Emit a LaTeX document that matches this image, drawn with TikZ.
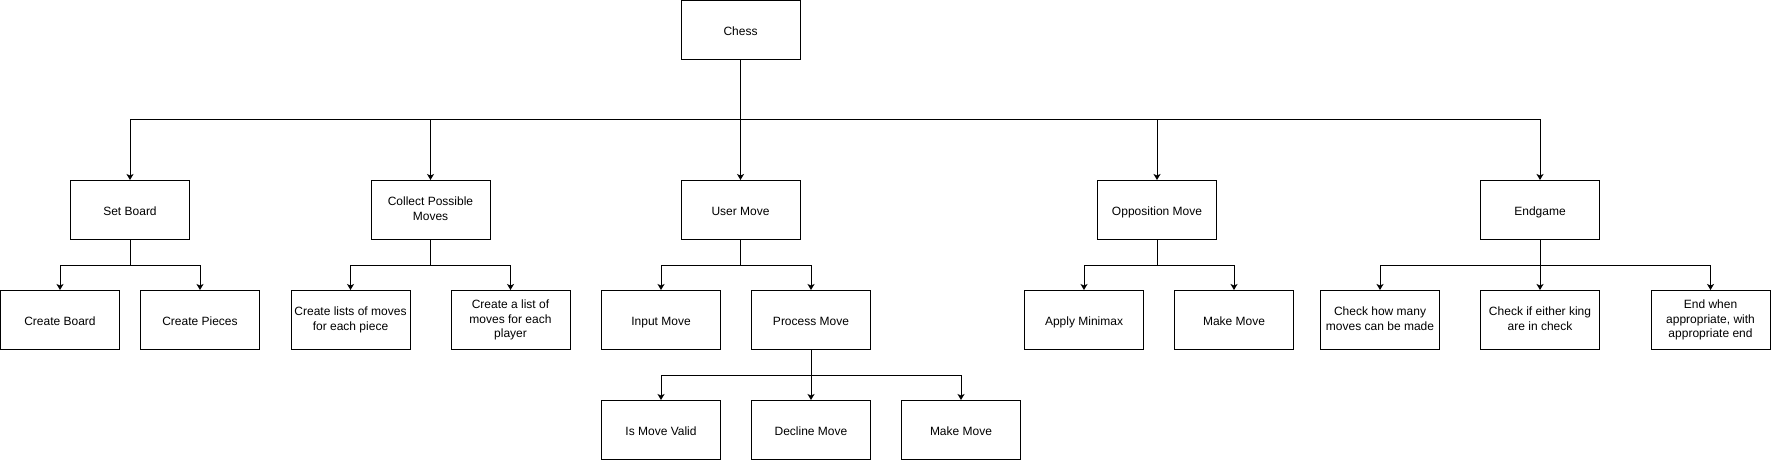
\documentclass[tikz,border=0pt]{standalone}
\usepackage{fontspec}
\setmainfont{Liberation Sans}
\usetikzlibrary{arrows.meta}

\tikzset{
  box/.style={draw, line width=1pt, minimum width=119pt, minimum height=59pt,
    align=center, inner sep=2pt, font=\fontsize{12}{14.4}\selectfont,
    execute at begin node={\rule{0pt}{14pt}},
    execute at end node={\rule[-2.6pt]{0pt}{2.6pt}}},
  link/.style={line width=1pt, -{Stealth[length=6pt,width=7pt,inset=1.5pt]}}
}

\begin{document}
\begin{tikzpicture}[x=1pt,y=1pt]

  \useasboundingbox (0,0) rectangle (1771,461);

  \def\rowa{251}
  \def\rowb{141}
  \def\rowc{31}

  % top
  \node[box] (chess) at (740.5,431) {Chess};

  % first level
  \node[box] (board) at (130,\rowa) {Set Board};
  \node[box] (collect) at (430.5,\rowa) {Collect Possible\\Moves};
  \node[box] (user) at (740.5,\rowa) {User Move};
  \node[box] (opp) at (1157,\rowa) {Opposition Move};
  \node[box] (endg) at (1540,\rowa) {Endgame};

  % second level
  \node[box] (cboard) at (60,\rowb) {Create Board};
  \node[box] (cpieces) at (200,\rowb) {Create Pieces};
  \node[box] (lpiece) at (350.5,\rowb) {Create lists of moves\\for each piece};
  \node[box] (lplayer) at (510.5,\rowb) {Create a list of\\moves for each\\player};
  \node[box] (input) at (661,\rowb) {Input Move};
  \node[box] (process) at (811,\rowb) {Process Move};
  \node[box] (minimax) at (1084,\rowb) {Apply Minimax};
  \node[box] (oppmake) at (1234,\rowb) {Make Move};
  \node[box] (howmany) at (1380,\rowb) {Check how many\\moves can be made};
  \node[box] (king) at (1540,\rowb) {Check if either king\\are in check};
  \node[box] (endwhen) at (1710.5,\rowb) {End when\\appropriate, with\\appropriate end};

  % third level
  \node[box] (valid) at (661,\rowc) {Is Move Valid};
  \node[box] (decline) at (811,\rowc) {Decline Move};
  \node[box] (usermake) at (961,\rowc) {Make Move};

  % connectors
  \foreach \child in {board,collect,user,opp,endg}
    \draw[link] (chess.south) -- ++(0,-60) -| (\child.north);
  \foreach \parent/\child in {board/cboard,board/cpieces,collect/lpiece,collect/lplayer,
      user/input,user/process,opp/minimax,opp/oppmake,
      endg/howmany,endg/king,endg/endwhen}
    \draw[link] (\parent.south) -- ++(0,-25) -| (\child.north);
  \foreach \child in {valid,decline,usermake}
    \draw[link] (process.south) -- ++(0,-25) -| (\child.north);

\end{tikzpicture}
\end{document}
